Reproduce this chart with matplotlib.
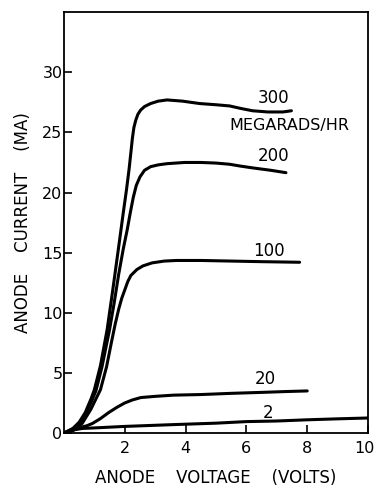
import matplotlib.pyplot as plt
from matplotlib.transforms import ScaledTranslation

# anode voltage (V) / anode current (mA)
v_300 = [0.0, 0.1, 0.3, 0.5, 0.7, 0.9, 1.0, 1.2, 1.42, 1.6, 1.79, 1.95, 2.06, 2.14, 2.2, 2.25, 2.3, 2.36, 2.43, 2.52, 2.65, 2.85, 3.1, 3.39, 3.9, 4.46, 5.0, 5.45, 5.8, 6.2, 6.7, 7.2, 7.48]
i_300 = [0.0, 0.1, 0.4, 0.9, 1.7, 2.9, 3.6, 5.6, 8.6, 11.8, 15.3, 18.3, 20.3, 21.9, 23.3, 24.5, 25.4, 26.0, 26.5, 26.85, 27.15, 27.4, 27.6, 27.7, 27.6, 27.4, 27.3, 27.2, 27.0, 26.8, 26.7, 26.7, 26.8]

v_200 = [0.0, 0.3, 0.5, 0.7, 0.9, 1.05, 1.25, 1.5, 1.65, 1.8, 1.95, 2.08, 2.18, 2.28, 2.38, 2.5, 2.65, 2.85, 3.1, 3.39, 3.97, 4.5, 5.0, 5.45, 5.8, 6.2, 6.8, 7.3]
i_200 = [0.0, 0.35, 0.8, 1.5, 2.6, 3.5, 5.5, 8.6, 10.8, 13.2, 15.3, 16.9, 18.3, 19.6, 20.6, 21.3, 21.85, 22.15, 22.3, 22.4, 22.5, 22.5, 22.45, 22.35, 22.2, 22.05, 21.85, 21.65]

v_100 = [0.0, 0.3, 0.6, 0.88, 1.2, 1.4, 1.55, 1.68, 1.8, 1.9, 2.0, 2.1, 2.2, 2.4, 2.6, 2.9, 3.3, 3.7, 4.5, 5.5, 6.5, 7.75]
i_100 = [0.0, 0.2, 0.8, 1.95, 3.6, 5.5, 7.4, 9.0, 10.3, 11.2, 11.9, 12.6, 13.1, 13.6, 13.9, 14.15, 14.3, 14.35, 14.35, 14.3, 14.25, 14.2]

v_20 = [0.0, 0.2, 0.5, 0.75, 0.94, 1.2, 1.47, 1.75, 2.0, 2.25, 2.53, 3.0, 3.6, 4.5, 5.5, 6.5, 7.3, 8.0]
i_20 = [0.0, 0.25, 0.45, 0.6, 0.8, 1.2, 1.7, 2.15, 2.5, 2.75, 2.95, 3.05, 3.15, 3.2, 3.3, 3.38, 3.45, 3.5]

v_2 = [0.0, 0.3, 0.6, 1.2, 2.0, 3.6, 5.0, 6.0, 7.0, 8.0, 9.0, 10.0]
i_2 = [0.0, 0.25, 0.38, 0.45, 0.55, 0.7, 0.82, 0.95, 1.0, 1.1, 1.18, 1.25]

curve_labels = ["300", "200", "100", "20", "2"]
label_pos = [(6.88, 27.9), (6.88, 23.0), (6.75, 15.1), (6.63, 4.5), (6.72, 1.67)]

xticks = [2, 4, 6, 8, 10]
yticks = [0, 5, 10, 15, 20, 25, 30]

plt.rcParams['font.family'] = ['DejaVu Sans']

fig = plt.figure(figsize=(3.74, 4.86), dpi=100)
ax = fig.add_axes([0.171, 0.109, 0.813, 0.866])

for v, i in [(v_300, i_300), (v_200, i_200), (v_100, i_100), (v_20, i_20), (v_2, i_2)]:
    ax.plot(v, i, color='black', lw=2.2, solid_capstyle='round', solid_joinstyle='round')

for txt, (x, y) in zip(curve_labels, label_pos):
    ax.text(x, y, txt, fontsize=12, ha='center', va='center')
ax.text(7.4, 25.55, "MEGARADS/HR", fontsize=11.5, ha='center', va='center')

ax.set_xlim(0, 10)
ax.set_ylim(0, 35)
ax.set_xticks(xticks)
ax.set_xticklabels([str(t) for t in xticks], fontsize=11.5)
ax.set_yticks(yticks)
ax.set_yticklabels([str(t) for t in yticks], fontsize=11.5)
ax.tick_params(direction='in', length=6, width=1.2)
ax.tick_params(axis='x', pad=6)
ax.tick_params(axis='y', pad=1)
for s in ax.spines.values():
    s.set_linewidth(1.3)

# nudge the last x label so it stays inside the figure
lab10 = ax.get_xticklabels()[-1]
lab10.set_transform(lab10.get_transform() + ScaledTranslation(-4 / 100, 0, fig.dpi_scale_trans))

ax.set_xlabel("ANODE    VOLTAGE    (VOLTS)", fontsize=12, labelpad=9)
ax.set_ylabel("ANODE    CURRENT    (MA)", fontsize=12, labelpad=7)

fig.savefig("out.png", dpi=100)
